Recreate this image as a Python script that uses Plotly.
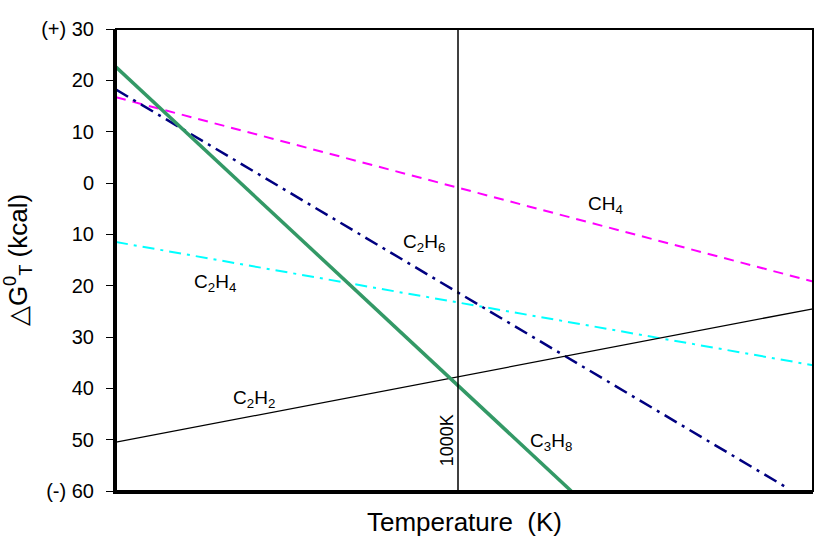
import plotly.graph_objects as go

# Temperature axis (arbitrary K scale, 1000 K marked)
x_range = [0, 2038]
t_mark = 1000

# Series endpoints (ΔG°T in kcal)
ch4_x = [0, 2038];   ch4_y = [16.7, -19.2]
c2h6_x = [0, 1965];  c2h6_y = [18.2, -59.5]
c2h4_x = [0, 2038];  c2h4_y = [-11.5, -35.5]
c2h2_x = [0, 2038];  c2h2_y = [-50.5, -24.5]
c3h8_x = [0, 1331];  c3h8_y = [22.6, -60.0]

tick_vals = [30, 20, 10, 0, -10, -20, -30, -40, -50, -60]
tick_text = ["(+) 30", "20", "10", "0", "10", "20", "30", "40", "50", "(-) 60"]

FONT = "Liberation Sans"

fig = go.Figure()
fig.add_trace(go.Scatter(x=ch4_x, y=ch4_y, mode="lines",
                         line=dict(color="#FF00FF", width=2, dash="10px,7px")))
fig.add_trace(go.Scatter(x=c2h4_x, y=c2h4_y, mode="lines",
                         line=dict(color="#00FFFF", width=2, dash="12px,6px,3px,6px")))
fig.add_trace(go.Scatter(x=c2h6_x, y=c2h6_y, mode="lines",
                         line=dict(color="#000080", width=2.5, dash="14px,6px,3px,6px")))
fig.add_trace(go.Scatter(x=c2h2_x, y=c2h2_y, mode="lines",
                         line=dict(color="#000000", width=1.3)))
fig.add_trace(go.Scatter(x=c3h8_x, y=c3h8_y, mode="lines",
                         line=dict(color="#339966", width=3.5)))

fig.add_shape(type="line", xref="x", yref="paper", x0=t_mark, x1=t_mark, y0=0, y1=1,
              line=dict(color="black", width=1.5))
fig.add_shape(type="rect", xref="paper", yref="paper", x0=0, x1=1, y0=0, y1=1,
              line=dict(color="black", width=2))

labels = [
    ("CH<sub>4</sub>", 0.703, 0.619),
    ("C<sub>2</sub>H<sub>6</sub>", 0.442, 0.537),
    ("C<sub>2</sub>H<sub>4</sub>", 0.142, 0.450),
    ("C<sub>2</sub>H<sub>2</sub>", 0.198, 0.199),
    ("C<sub>3</sub>H<sub>8</sub>", 0.624, 0.106),
]
for txt, xp, yp in labels:
    fig.add_annotation(text=txt, xref="paper", yref="paper", x=xp, y=yp,
                       xanchor="center", yanchor="middle",
                       showarrow=False, font=dict(family=FONT, size=19, color="black"))
fig.add_annotation(text="1000K", xref="paper", yref="paper", x=0.475, y=0.110,
                   xanchor="center", yanchor="middle",
                   showarrow=False, textangle=-90,
                   font=dict(family=FONT, size=18, color="black"))

fig.update_layout(
    width=825, height=547,
    margin=dict(l=116, r=12, t=29, b=56),
    paper_bgcolor="white", plot_bgcolor="white",
    showlegend=False,
    font=dict(family=FONT, color="black"),
    xaxis=dict(range=x_range, showticklabels=False, ticks="", showgrid=False,
               zeroline=False, showline=True, linecolor="black", linewidth=3,
               title=dict(text="Temperature  (K)", font=dict(size=26), standoff=20)),
    yaxis=dict(range=[-60, 30], tickvals=tick_vals, ticktext=tick_text,
               ticks="outside", ticklen=7, tickwidth=1, tickcolor="black",
               ticklabelstandoff=8,
               tickfont=dict(size=20), showgrid=False, zeroline=False,
               showline=True, linecolor="black", linewidth=3,
               title=dict(text="△G<sup>0</sup><sub>T</sub> (kcal)", font=dict(size=26), standoff=8)),
)

fig.write_html("out.html")
